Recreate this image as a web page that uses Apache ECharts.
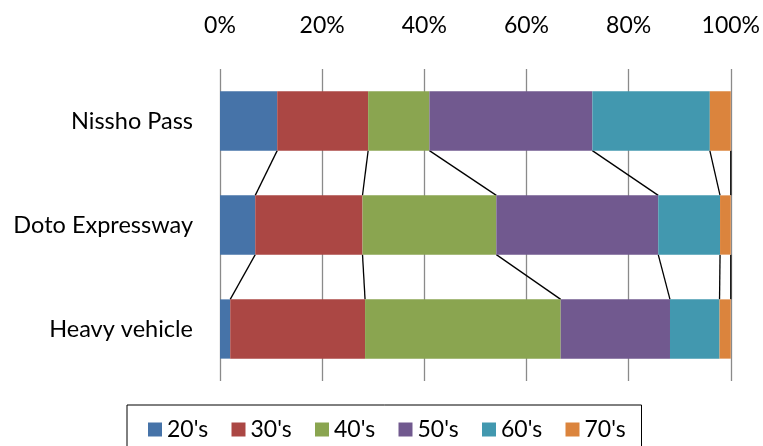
<!DOCTYPE html>
<html>
<head>
<meta charset="utf-8">
<script src="https://cdn.jsdelivr.net/npm/echarts@6/dist/echarts.min.js"></script>
<style>
  html, body { margin: 0; padding: 0; background: #fff; }
  #chart { width: 763px; height: 446px; }
</style>
</head>
<body>
<div id="chart"></div>
<script>
// Road users by age group, share of each age bracket (%)
const categories = ['Nissho Pass', 'Doto Expressway', 'Heavy vehicle'];
const ageGroups = ["20's", "30's", "40's", "50's", "60's", "70's"];
const share20s = [11.2, 6.9, 2.0];
const share30s = [17.8, 21.0, 26.4];
const share40s = [12.0, 26.2, 38.3];
const share50s = [31.9, 31.7, 21.4];
const share60s = [23.0, 12.1, 9.7];
const share70s = [4.1, 2.1, 2.2];
const tickValues = [0, 20, 40, 60, 80, 100];

const groupValues = [share20s, share30s, share40s, share50s, share60s, share70s];
const colors = ['#4673A8', '#AB4744', '#8AA550', '#71598F', '#4298AF', '#DB843D'];
const FONT = 'Lato';
const BAR_RATIO = 0.57;

// Cumulative right edge of each segment, per category
const cumulative = categories.map((_, c) => {
  let run = 0;
  return groupValues.map(vals => (run += vals[c]));
});

// Connector lines between adjacent bars at each segment boundary
const connectorData = [];
for (let c = 0; c < categories.length - 1; c++) {
  for (let g = 0; g < ageGroups.length; g++) {
    connectorData.push([cumulative[c][g], c, cumulative[c + 1][g], c + 1]);
  }
}

const barSeries = ageGroups.map((name, g) => ({
  name,
  type: 'bar',
  stack: 'total',
  barWidth: (BAR_RATIO * 100) + '%',
  itemStyle: { color: colors[g] },
  data: groupValues[g]
}));

const connectorSeries = {
  type: 'custom',
  name: 'connectors',
  encode: { x: [0, 2], y: [1, 3] },
  z: 1,
  silent: true,
  renderItem(params, api) {
    const p1 = api.coord([api.value(0), api.value(1)]);
    const p2 = api.coord([api.value(2), api.value(3)]);
    const half = api.size([0, 1])[1] * BAR_RATIO / 2;
    return {
      type: 'line',
      shape: { x1: p1[0], y1: p1[1] + half, x2: p2[0], y2: p2[1] - half },
      style: { stroke: '#000', lineWidth: 1.3 }
    };
  },
  data: connectorData
};

const chart = echarts.init(document.getElementById('chart'));
chart.setOption({
  animation: false,
  textStyle: { fontFamily: FONT, color: '#000' },
  grid: { left: 220, right: 32, top: 69, bottom: 65 },
  xAxis: {
    type: 'value',
    position: 'top',
    min: tickValues[0],
    max: tickValues[tickValues.length - 1],
    interval: tickValues[1] - tickValues[0],
    axisLine: { show: false },
    axisTick: { show: false },
    axisLabel: {
      formatter: '{value}%',
      fontFamily: FONT, fontSize: 23, color: '#000', margin: 32
    },
    splitLine: { show: true, lineStyle: { color: '#8a8a8a', width: 1.3 } }
  },
  yAxis: {
    type: 'category',
    inverse: true,
    data: categories,
    axisLine: { show: false },
    axisTick: { show: false },
    axisLabel: { fontFamily: FONT, fontSize: 23.5, color: '#000', margin: 27 }
  },
  legend: {
    data: ageGroups,
    left: 127,
    top: 405,
    orient: 'horizontal',
    icon: 'rect',
    itemWidth: 14,
    itemHeight: 14,
    itemGap: 14.5,
    padding: [13, 7, 30, 21],
    borderColor: '#000',
    borderWidth: 1,
    textStyle: { fontFamily: FONT, fontSize: 23, color: '#000', width: 50, lineHeight: 20 }
  },
  series: [...barSeries, connectorSeries]
});
</script>
</body>
</html>
